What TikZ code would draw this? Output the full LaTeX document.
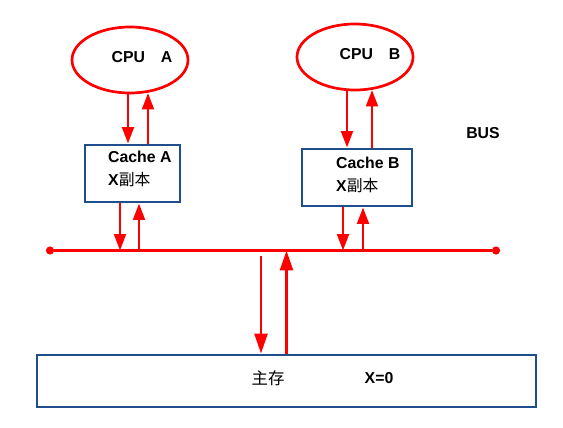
\documentclass[tikz,border=0pt]{standalone}
\usepackage{fontspec}
\setmainfont{Liberation Sans}
\newfontfamily\cjk{Noto Sans CJK SC}
\usetikzlibrary{arrows.meta, shapes.geometric}
\definecolor{RedLine}{HTML}{FF0000}
\definecolor{BlueBox}{HTML}{1F4E8C}
\newcommand\nodecpua{CPU\quad A}
\newcommand\nodecpub{CPU\quad B}
\newcommand\nodecachea{Cache A\\X{\cjk\mdseries 副本}}
\newcommand\nodecacheb{Cache B\\X{\cjk\mdseries 副本}}
\tikzstyle{cpunode} = [ellipse, draw=RedLine, line width=2.3pt, minimum width=3.48cm, minimum height=1.98cm, inner sep=0pt]
\tikzstyle{boxnode} = [rectangle, draw=BlueBox, line width=2.5pt, inner sep=0pt]
\tikzstyle{txt} = [font=\fontsize{13.5}{20}\selectfont\bfseries, inner sep=0pt]
\tikzstyle{dn} = [draw=RedLine, line width=2.3pt, -{Triangle[length=14pt, width=10pt]}]
\tikzstyle{bigdn} = [draw=RedLine, line width=2.3pt, -{Triangle[length=17pt, width=11pt]}]
\tikzset{>=latex}

\begin{document}
\begin{tikzpicture}[x=0.03cm, y=-0.03cm]
\useasboundingbox (0,0) rectangle (563,428);
\node[cpunode] (cpua) at (130, 60) {};
\node[cpunode] (cpub) at (355, 57) {};
\node[txt] (cpualbl) at (142, 57) {\nodecpua};
\node[txt] (cpublbl) at (370, 54) {\nodecpub};
\node[boxnode, minimum width=2.85cm, minimum height=1.71cm] (cachea) at (132.5, 173.5) {};
\node[boxnode, minimum width=3.3cm, minimum height=1.71cm] (cacheb) at (357, 177.5) {};
\node[txt, align=left, anchor=west] (cachealbl) at (108, 169) {\nodecachea};
\node[txt, align=left, anchor=west] (cacheblbl) at (336, 175) {\nodecacheb};
\node[txt] (bus) at (483, 133) {BUS};
\node[boxnode, minimum width=14.97cm, minimum height=1.56cm] (mem) at (286.5, 381) {};
\node[txt, font=\fontsize{14}{16}\selectfont\cjk] (memlbl) at (268, 378) {主存};
\node[txt] (val) at (379, 378) {X=0};
\node[circle, fill=RedLine, inner sep=0pt, minimum size=7pt] (busl) at (50, 250.5) {};
\node[circle, fill=RedLine, inner sep=0pt, minimum size=7pt] (busr) at (496, 250.5) {};
\draw[draw=RedLine, line width=2.3pt] (busl) -- (busr);
\draw[dn] (128,0 |- cpua.south) -- (128,0 |- cachea.north);
\draw[dn] (148,0 |- cachea.north) -- (148,93);
\draw[dn] (347,0 |- cpub.south) -- (347,0 |- cacheb.north);
\draw[dn] (372,0 |- cacheb.north) -- (372,90);
\draw[dn] (120,0 |- cachea.south) -- (120,0 |- busl);
\draw[dn] (139,0 |- busl) -- (139,0 |- cachea.south);
\draw[dn] (343,0 |- cacheb.south) -- (343,0 |- busl);
\draw[dn] (363,0 |- busl) -- (363,0 |- cacheb.south);
\draw[bigdn] (261,256) -- (261,0 |- mem.north);
\draw[bigdn] (286.5,0 |- mem.north) -- (286.5,0 |- busl);
\end{tikzpicture}
\end{document}
